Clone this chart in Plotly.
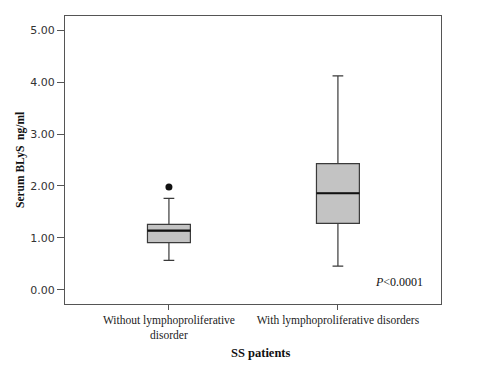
import plotly.graph_objects as go

categories = ["Without lymphoproliferative<br>disorder", "With lymphoproliferative disorders"]
lower_whisker = [0.57, 0.46]
q1 = [0.91, 1.28]
median = [1.14, 1.86]
q3 = [1.26, 2.43]
upper_whisker = [1.76, 4.12]
outlier_group = [0]
outlier_values = [1.98]
y_ticks = [0, 1, 2, 3, 4, 5]
y_ticklabels = ["0.00", "1.00", "2.00", "3.00", "4.00", "5.00"]

BOX_W = 0.254
xs = list(range(len(categories)))

fig = go.Figure()
fig.add_trace(go.Box(
    x=xs, q1=q1, median=median, q3=q3,
    lowerfence=lower_whisker, upperfence=upper_whisker,
    width=BOX_W, whiskerwidth=0.25,
    fillcolor="#c3c3c3", line=dict(color="#3a3a3a", width=1.2),
    boxpoints=False, showlegend=False, hoverinfo="skip",
))
# thicker median lines
for i, m in zip(xs, median):
    fig.add_trace(go.Scatter(
        x=[i - BOX_W / 2, i + BOX_W / 2], y=[m, m], mode="lines",
        line=dict(color="#111111", width=2.2), showlegend=False, hoverinfo="skip"))
fig.add_trace(go.Scatter(
    x=[xs[g] for g in outlier_group], y=outlier_values, mode="markers",
    marker=dict(color="#111111", size=7), showlegend=False, hoverinfo="skip"))

serif = "Liberation Serif, Times New Roman, serif"
fig.update_layout(
    width=486, height=374,
    margin=dict(l=65, r=45, t=16, b=70),
    paper_bgcolor="white", plot_bgcolor="white",
    xaxis=dict(
        range=[-0.615, 1.61], tickmode="array", tickvals=xs, ticktext=categories,
        showgrid=False, zeroline=False, showline=True, mirror=True,
        linecolor="#555555", linewidth=1.2,
        ticks="outside", ticklen=5, tickcolor="#555555",
        tickfont=dict(family=serif, size=11.5, color="#222222"),
    ),
    yaxis=dict(
        range=[-0.27, 5.27], tickmode="array", tickvals=y_ticks, ticktext=y_ticklabels,
        showgrid=False, zeroline=False, showline=True, mirror=True,
        linecolor="#555555", linewidth=1.2,
        ticks="outside", ticklen=7, tickcolor="#555555",
        tickfont=dict(family="DejaVu Sans, Verdana, sans-serif", size=11, color="#333333"),
    ),
    annotations=[
        dict(text="<b>Serum BLyS  ng/ml</b>", xref="paper", yref="paper", x=0, y=0.5,
             xanchor="center", yanchor="middle",
             xshift=-45, textangle=-90, showarrow=False,
             font=dict(family=serif, size=11.5, color="#111111")),
        dict(text="<b>SS patients</b>", xref="paper", yref="paper", x=0.52, y=0,
             yshift=-40, yanchor="top", showarrow=False,
             font=dict(family=serif, size=12.5, color="#111111")),
        dict(text="<i>P</i><0.0001", xref="paper", yref="paper", x=0.958, y=0.045,
             xanchor="right", yanchor="bottom", showarrow=False,
             font=dict(family=serif, size=12, color="#111111")),
    ],
)
fig.write_html("out.html", config={"displayModeBar": False},
               post_script="document.body.style.margin='0';document.body.style.padding='0';")
